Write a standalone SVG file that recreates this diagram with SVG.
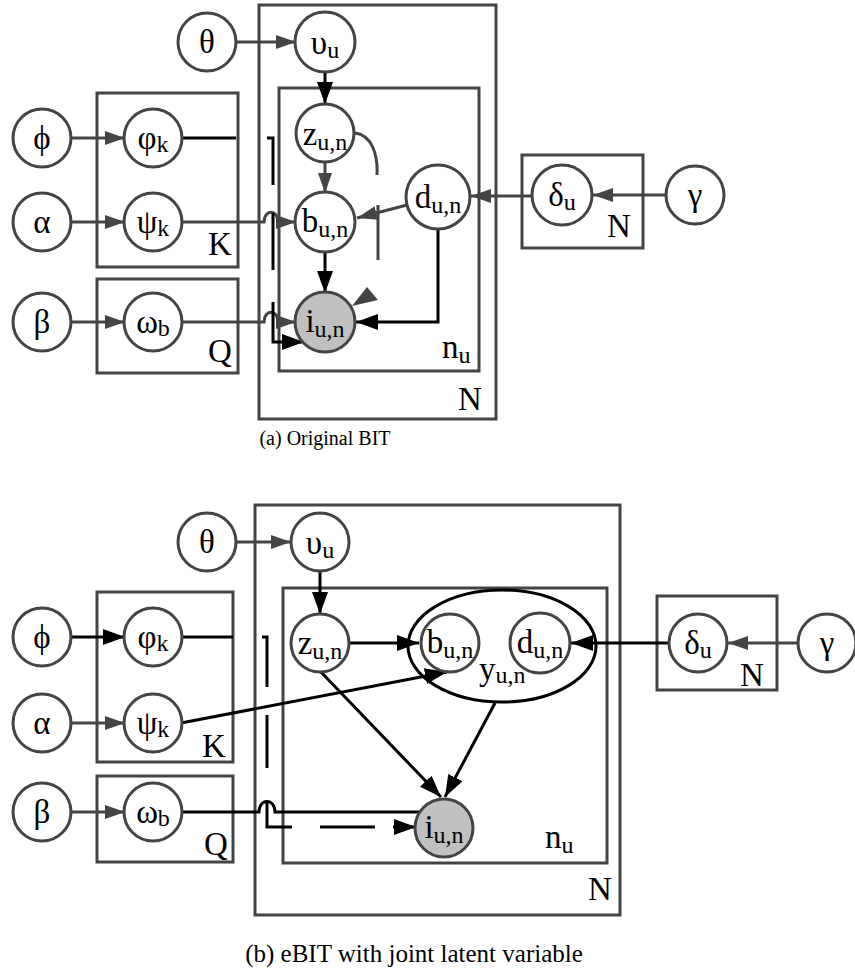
<svg xmlns="http://www.w3.org/2000/svg" width="855" height="971" viewBox="0 0 855 971">
<defs>
<marker id="ag" markerUnits="userSpaceOnUse" markerWidth="20" markerHeight="14" refX="20" refY="7" orient="auto"><path d="M0,0 L20,7 L0,14 z" fill="#444"/></marker>
<marker id="ab" markerUnits="userSpaceOnUse" markerWidth="22" markerHeight="16" refX="22" refY="8" orient="auto"><path d="M0,0 L22,8 L0,16 z" fill="#000"/></marker>
</defs>
<style>
.plate{fill:none;stroke:#444;stroke-width:3}
.nd{fill:#fff;stroke:#444;stroke-width:3}
.obs{fill:#c0c0c0;stroke:#444;stroke-width:3}
.g{fill:none;stroke:#444;stroke-width:3}
.k{fill:none;stroke:#000;stroke-width:3}
.ga{marker-end:url(#ag)}
.ka{marker-end:url(#ab)}
text{font-family:"Liberation Serif","Times New Roman",serif;font-size:33px;fill:#000}
.t{text-anchor:middle}
.s{font-size:24px}
.capa{text-anchor:middle;font-size:20px}
.capb{text-anchor:middle;font-size:25px}
</style>

<!-- ===== (a) Original BIT ===== -->
<g id="plate-N-a"><rect class="plate" x="259" y="5" width="237" height="414"/><text x="458" y="410">N</text></g>
<g id="plate-nu-a"><rect class="plate" x="279" y="88" width="200" height="283"/><text x="442" y="358">n<tspan class="s" dy="5">u</tspan></text></g>
<g id="plate-K-a"><rect class="plate" x="97" y="93" width="141" height="174"/><text x="208" y="255">K</text></g>
<g id="plate-Q-a"><rect class="plate" x="97" y="279" width="141" height="94"/><text x="208" y="362">Q</text></g>
<g id="plate-Nd-a"><rect class="plate" x="522" y="155" width="121" height="93"/><text x="607" y="237">N</text></g>

<g id="edges-a">
<path class="g ga" d="M236,42 H296"/>
<path class="k ka" d="M325,72 V104"/>
<path class="g ga" d="M325,162 V193"/>
<path class="k ka" d="M325,252 V293"/>
<path class="g ga" d="M407,205 L357,218"/>
<path class="k ka" d="M438,229 V322 H356"/>
<path class="g ga" d="M532,196 H471"/>
<path class="g ga" d="M666,195 H593"/>
<path class="g ga" d="M71,138 H125"/>
<path class="g ga" d="M71,222 H125"/>
<path class="g ga" d="M71,322 H125"/>
<path class="k" d="M182,138 H236"/>
<path class="g ga" d="M182,222 H264 C264,209 278,209 278,222 H296"/>
<path class="g ga" d="M182,322 H264 C264,309 278,309 278,322 H296"/>
<path class="k" d="M267,138 H273 V185 M273,213 V270"/>
<path class="k ka" d="M273,302 V342 H304"/>
<path class="g" d="M355,133 C372,135 378,155 377,175 M378,205 V260"/>
<polygon points="367,287 378,300 352,306" fill="#444"/>
</g>

<g id="theta-a"><circle class="nd" cx="207" cy="42" r="29"/><text class="t" x="207" y="53">θ</text></g>
<g id="upsilon-a"><circle class="nd" cx="325" cy="42" r="30"/><text class="t" x="325" y="54">υ<tspan class="s" dy="4">u</tspan></text></g>
<g id="z-a"><circle class="nd" cx="325" cy="133" r="29"/><text class="t" x="325" y="145">z<tspan class="s" dy="5">u,n</tspan></text></g>
<g id="b-a"><circle class="nd" cx="325" cy="222" r="30"/><text class="t" x="325" y="232">b<tspan class="s" dy="5">u,n</tspan></text></g>
<g id="d-a"><circle class="nd" cx="438" cy="197" r="32"/><text class="t" x="438" y="208">d<tspan class="s" dy="5">u,n</tspan></text></g>
<g id="i-a"><circle class="obs" cx="325" cy="322" r="30"/><text class="t" x="325" y="332">i<tspan class="s" dy="5">u,n</tspan></text></g>
<g id="phi-a"><circle class="nd" cx="42" cy="138" r="29"/><text class="t" x="42" y="149">ϕ</text></g>
<g id="varphi-a"><circle class="nd" cx="153" cy="138" r="29"/><text class="t" x="153" y="149">φ<tspan class="s" dy="3">k</tspan></text></g>
<g id="alpha-a"><circle class="nd" cx="42" cy="222" r="29"/><text class="t" x="42" y="233">α</text></g>
<g id="psi-a"><circle class="nd" cx="153" cy="222" r="29"/><text class="t" x="153" y="233">ψ<tspan class="s" dy="3">k</tspan></text></g>
<g id="beta-a"><circle class="nd" cx="42" cy="322" r="29"/><text class="t" x="42" y="333">β</text></g>
<g id="omega-a"><circle class="nd" cx="153" cy="322" r="29"/><text class="t" x="153" y="333">ω<tspan class="s" dy="3">b</tspan></text></g>
<g id="delta-a"><circle class="nd" cx="562" cy="195" r="30"/><text class="t" x="562" y="206">δ<tspan class="s" dy="4">u</tspan></text></g>
<g id="gamma-a"><circle class="nd" cx="695" cy="195" r="29"/><text class="t" x="695" y="206">γ</text></g>

<text class="capa" x="325" y="445">(a) Original BIT</text>

<!-- ===== (b) eBIT ===== -->
<g id="plate-N-b"><rect class="plate" x="255" y="505" width="365" height="410"/><text x="588" y="900">N</text></g>
<g id="plate-nu-b"><rect class="plate" x="283" y="588" width="324" height="275"/><text x="545" y="848">n<tspan class="s" dy="5">u</tspan></text></g>
<g id="plate-K-b"><rect class="plate" x="97" y="592" width="136" height="170"/><text x="202" y="757">K</text></g>
<g id="plate-Q-b"><rect class="plate" x="97" y="776" width="136" height="86"/><text x="204" y="855">Q</text></g>
<g id="plate-Nd-b"><rect class="plate" x="657" y="596" width="120" height="94"/><text x="740" y="686">N</text></g>

<g id="edges-b">
<path class="g ga" d="M236,542 H291"/>
<path class="k ka" d="M320,571 V614"/>
<path class="k ka" d="M349,643 H419"/>
<path class="k ka" d="M181,723 L447,672"/>
<path class="k ka" d="M320,671 L441,797"/>
<path class="k ka" d="M495,703 L445,797"/>
<path class="k ka" d="M669,643 H571"/>
<path class="g ga" d="M798,643 H728"/>
<path class="k ka" d="M71,637 H125"/>
<path class="g ga" d="M71,723 H125"/>
<path class="g ga" d="M71,812 H125"/>
<path class="k" d="M182,637 H233"/>
<path class="k" d="M182,812 H259 C259,798 275,798 275,812 H420"/>
<path class="k" d="M262,637 H267 V687 M267,715 V768 M267,802 V827 H292 M320,827 H375"/>
<path class="k ka" d="M393,827 H416"/>
</g>

<g id="theta-b"><circle class="nd" cx="207" cy="542" r="29"/><text class="t" x="207" y="553">θ</text></g>
<g id="upsilon-b"><circle class="nd" cx="320" cy="542" r="29"/><text class="t" x="320" y="554">υ<tspan class="s" dy="4">u</tspan></text></g>
<g id="z-b"><circle class="nd" cx="320" cy="643" r="29"/><text class="t" x="320" y="654">z<tspan class="s" dy="5">u,n</tspan></text></g>
<g id="y-b"><ellipse cx="502" cy="646" rx="94" ry="56" fill="none" stroke="#000" stroke-width="3"/><text x="479" y="680">y<tspan class="s" dy="3">u,n</tspan></text></g>
<g id="b-b"><circle class="nd" cx="450" cy="643" r="29"/><text class="t" x="450" y="653">b<tspan class="s" dy="5">u,n</tspan></text></g>
<g id="d-b"><circle class="nd" cx="540" cy="643" r="30"/><text class="t" x="540" y="653">d<tspan class="s" dy="5">u,n</tspan></text></g>
<g id="i-b"><circle class="obs" cx="444" cy="828" r="29"/><text class="t" x="444" y="838">i<tspan class="s" dy="5">u,n</tspan></text></g>
<g id="phi-b"><circle class="nd" cx="42" cy="637" r="29"/><text class="t" x="42" y="648">ϕ</text></g>
<g id="varphi-b"><circle class="nd" cx="153" cy="637" r="29"/><text class="t" x="153" y="648">φ<tspan class="s" dy="3">k</tspan></text></g>
<g id="alpha-b"><circle class="nd" cx="42" cy="723" r="29"/><text class="t" x="42" y="734">α</text></g>
<g id="psi-b"><circle class="nd" cx="153" cy="723" r="29"/><text class="t" x="153" y="734">ψ<tspan class="s" dy="3">k</tspan></text></g>
<g id="beta-b"><circle class="nd" cx="42" cy="812" r="29"/><text class="t" x="42" y="823">β</text></g>
<g id="omega-b"><circle class="nd" cx="153" cy="812" r="29"/><text class="t" x="153" y="823">ω<tspan class="s" dy="3">b</tspan></text></g>
<g id="delta-b"><circle class="nd" cx="698" cy="643" r="29"/><text class="t" x="698" y="654">δ<tspan class="s" dy="4">u</tspan></text></g>
<g id="gamma-b"><circle class="nd" cx="827" cy="643" r="29"/><text class="t" x="827" y="654">γ</text></g>

<text class="capb" x="414" y="962">(b) eBIT with joint latent variable</text>
</svg>
